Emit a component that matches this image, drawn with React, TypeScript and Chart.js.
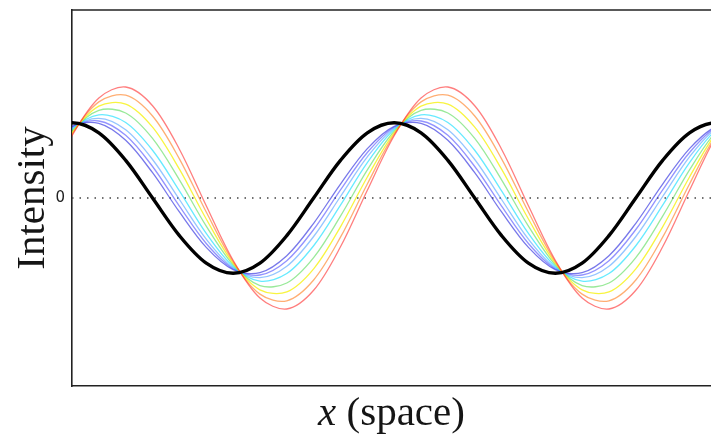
import React, { useEffect, useRef } from 'react';
import { Chart, registerables } from 'chart.js';

Chart.register(...registerables);

// x positions: phase of the reference (black) wave, in degrees (points beyond the frame are clipped)
const phaseDeg = [-30, 0, 30, 60, 90, 120, 150, 180, 210, 240, 270, 300, 330, 360, 390, 420, 450, 480, 510, 540, 570, 600, 630, 660, 690, 720, 750];

// intensity values (zero line = 0, black amplitude = 1)
const blackWave = [0.866, 1, 0.866, 0.5, 0, -0.5, -0.866, -1, -0.866, -0.5, 0, 0.5, 0.866, 1, 0.866, 0.5, 0, -0.5, -0.866, -1, -0.866, -0.5, 0, 0.5, 0.866, 1, 0.866];
const redWave = [0.103, 0.828, 1.33, 1.476, 1.227, 0.649, -0.103, -0.828, -1.33, -1.476, -1.227, -0.649, 0.103, 0.828, 1.33, 1.476, 1.227, 0.649, -0.103, -0.828, -1.33, -1.476, -1.227, -0.649, 0.103, 0.828, 1.33];
const orangeWave = [0.187, 0.846, 1.278, 1.367, 1.09, 0.521, -0.187, -0.846, -1.278, -1.367, -1.09, -0.521, 0.187, 0.846, 1.278, 1.367, 1.09, 0.521, -0.187, -0.846, -1.278, -1.367, -1.09, -0.521, 0.187, 0.846, 1.278];
const yellowWave = [0.279, 0.866, 1.221, 1.249, 0.942, 0.383, -0.279, -0.866, -1.221, -1.249, -0.942, -0.383, 0.279, 0.866, 1.221, 1.249, 0.942, 0.383, -0.279, -0.866, -1.221, -1.249, -0.942, -0.383, 0.279, 0.866, 1.221];
const greenWave = [0.374, 0.888, 1.165, 1.13, 0.792, 0.241, -0.374, -0.888, -1.165, -1.13, -0.792, -0.241, 0.374, 0.888, 1.165, 1.13, 0.792, 0.241, -0.374, -0.888, -1.165, -1.13, -0.792, -0.241, 0.374, 0.888, 1.165];
const cyanWave = [0.471, 0.91, 1.106, 1.005, 0.635, 0.095, -0.471, -0.91, -1.106, -1.005, -0.635, -0.095, 0.471, 0.91, 1.106, 1.005, 0.635, 0.095, -0.471, -0.91, -1.106, -1.005, -0.635, -0.095, 0.471, 0.91, 1.106];
const skyWave = [0.547, 0.928, 1.06, 0.908, 0.512, -0.02, -0.547, -0.928, -1.06, -0.908, -0.512, 0.02, 0.547, 0.928, 1.06, 0.908, 0.512, -0.02, -0.547, -0.928, -1.06, -0.908, -0.512, 0.02, 0.547, 0.928, 1.06];
const blue2Wave = [0.605, 0.941, 1.024, 0.833, 0.419, -0.108, -0.605, -0.941, -1.024, -0.833, -0.419, 0.108, 0.605, 0.941, 1.024, 0.833, 0.419, -0.108, -0.605, -0.941, -1.024, -0.833, -0.419, 0.108, 0.605, 0.941, 1.024];
const blue1Wave = [0.657, 0.953, 0.993, 0.767, 0.336, -0.186, -0.657, -0.953, -0.993, -0.767, -0.336, 0.186, 0.657, 0.953, 0.993, 0.767, 0.336, -0.186, -0.657, -0.953, -0.993, -0.767, -0.336, 0.186, 0.657, 0.953, 0.993];

const zeroLineX = [0, 720];
const zeroLineY = [0, 0];

const yTickValues = [0];
const yTickLabels = ['0'];
const yTitle = 'Intensity';
const xTitleVar = 'x';
const xTitleRest = ' (space)';

const colouredSeries = [
  { values: redWave, color: 'rgba(255, 40, 40, 0.6)' },
  { values: orangeWave, color: 'rgba(255, 130, 40, 0.65)' },
  { values: yellowWave, color: 'rgba(245, 240, 0, 0.75)' },
  { values: greenWave, color: 'rgba(70, 215, 70, 0.55)' },
  { values: cyanWave, color: 'rgba(0, 220, 255, 0.6)' },
  { values: skyWave, color: 'rgba(60, 150, 255, 0.55)' },
  { values: blue2Wave, color: 'rgba(40, 40, 255, 0.5)' },
  { values: blue1Wave, color: 'rgba(30, 30, 220, 0.6)' },
];

const toPoints = (ys: number[]) => ys.map((y, i) => ({ x: phaseDeg[i], y }));

const titlePlugin = {
  id: 'titlePlugin',
  afterDraw(chart: any) {
    const ctx = chart.ctx as CanvasRenderingContext2D;
    const area = chart.chartArea;
    // top frame line
    ctx.save();
    ctx.strokeStyle = '#222222';
    ctx.lineWidth = 1.6;
    ctx.beginPath();
    ctx.moveTo(area.left - 0.8, area.top);
    ctx.lineTo(area.right, area.top);
    ctx.stroke();
    ctx.restore();

    ctx.save();
    ctx.fillStyle = '#151515';
    ctx.font = '41px "Liberation Serif", "DejaVu Serif", serif';
    ctx.textAlign = 'center';
    ctx.textBaseline = 'alphabetic';
    ctx.translate(44, (area.top + area.bottom) / 2);
    ctx.rotate(-Math.PI / 2);
    ctx.fillText(yTitle, 0, 0);
    ctx.restore();

    ctx.save();
    ctx.fillStyle = '#151515';
    ctx.textAlign = 'left';
    ctx.textBaseline = 'alphabetic';
    const fVar = 'italic 41px "Liberation Serif", "DejaVu Serif", serif';
    const fRest = '41px "Liberation Serif", "DejaVu Serif", serif';
    ctx.font = fVar;
    const w1 = ctx.measureText(xTitleVar).width;
    ctx.font = fRest;
    const w2 = ctx.measureText(xTitleRest).width;
    const cx = (area.left + area.right) / 2;
    const start = cx - (w1 + w2) / 2;
    const base = 425;
    ctx.font = fVar;
    ctx.fillText(xTitleVar, start, base);
    ctx.font = fRest;
    ctx.fillText(xTitleRest, start + w1, base);
    ctx.restore();
  },
};

export default function App() {
  const ref = useRef<HTMLCanvasElement | null>(null);

  useEffect(() => {
    if (!ref.current) return;
    const datasets: any[] = [];
    datasets.push({
      data: toPoints(blackWave),
      borderColor: '#000000',
      borderWidth: 3.4,
      pointRadius: 0,
      tension: 0.33,
      fill: false,
    });
    colouredSeries.forEach((s) => {
      datasets.push({
        data: toPoints(s.values),
        borderColor: s.color,
        borderWidth: 1.3,
        pointRadius: 0,
        tension: 0.33,
        fill: false,
      });
    });
    datasets.push({
      data: zeroLineX.map((x, i) => ({ x, y: zeroLineY[i] })),
      borderColor: '#444444',
      borderWidth: 1.5,
      borderDash: [1.5, 6],
      pointRadius: 0,
      tension: 0,
      fill: false,
    });

    const chart = new Chart(ref.current, {
      type: 'line',
      data: { datasets },
      plugins: [titlePlugin],
      options: {
        animation: false,
        responsive: false,
        devicePixelRatio: 1,
        layout: { padding: { top: 10, left: 0, right: 0, bottom: 0 } },
        plugins: { legend: { display: false }, tooltip: { enabled: false } },
        scales: {
          x: {
            type: 'linear',
            min: 0,
            max: 714,
            position: 'bottom',
            grid: { display: false, drawTicks: false },
            border: { display: true, color: '#222222', width: 1.6 },
            ticks: { display: false },
            afterFit: (scale: any) => {
              scale.height = 49;
              scale.paddingLeft = 0;
              scale.paddingRight = 0;
            },
          },
          y: {
            type: 'linear',
            min: -2.5,
            max: 2.5,
            position: 'left',
            grid: { display: false, drawTicks: false },
            border: { display: true, color: '#222222', width: 1.6 },
            afterBuildTicks: (scale: any) => {
              scale.ticks = yTickValues.map((v) => ({ value: v }));
            },
            ticks: {
              padding: 7,
              color: '#222222',
              font: { family: '"DejaVu Sans", sans-serif', size: 15 },
              callback: (v: any) => {
                const i = yTickValues.indexOf(Number(v));
                return i >= 0 ? yTickLabels[i] : '';
              },
            },
            afterFit: (scale: any) => {
              scale.width = 72;
              scale.paddingTop = 0;
              scale.paddingBottom = 0;
            },
          },
        },
      },
    });
    return () => chart.destroy();
  }, []);

  return (
    <div style={{ position: 'fixed', left: 0, top: 0, width: 711, height: 435, background: '#ffffff' }}>
      <canvas ref={ref} width={711} height={435} style={{ display: 'block' }} />
    </div>
  );
}
